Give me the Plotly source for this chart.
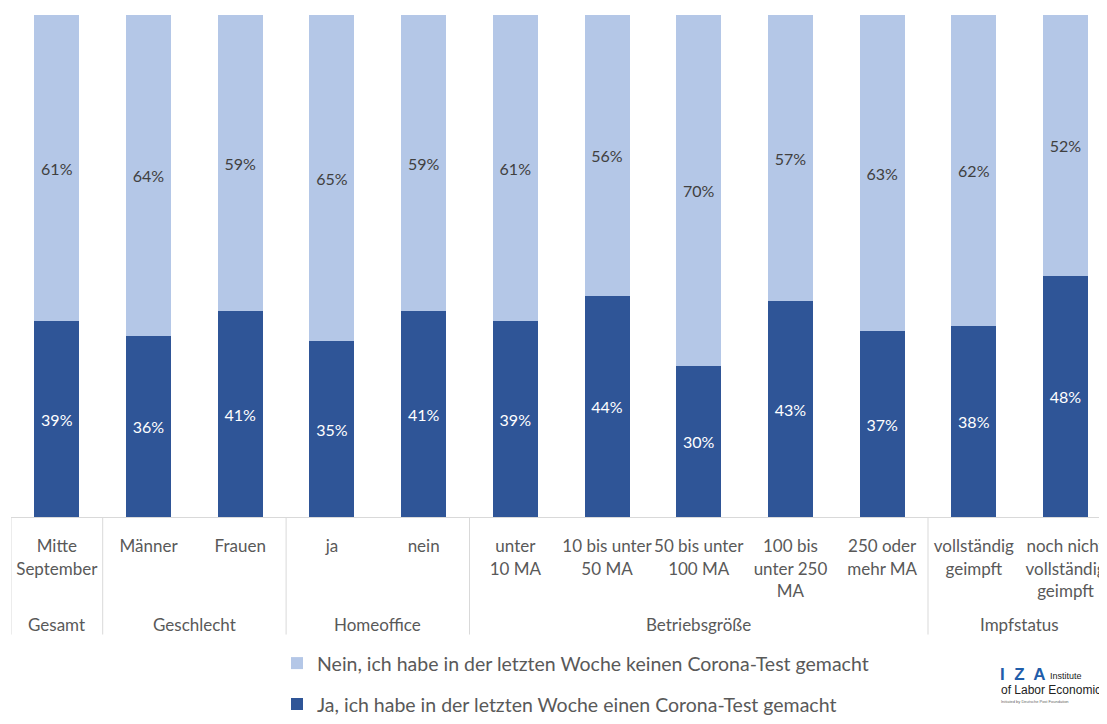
import plotly.graph_objects as go

categories = ["Mitte<br>September", "Männer", "Frauen", "ja", "nein", "unter<br>10 MA",
              "10 bis unter<br>50 MA", "50 bis unter<br>100 MA", "100 bis<br>unter 250<br>MA",
              "250 oder<br>mehr MA", "vollständig<br>geimpft", "noch nicht<br>vollständig<br>geimpft"]
ja_values = [39, 36, 41, 35, 41, 39, 44, 30, 43, 37, 38, 48]
nein_values = [61, 64, 59, 65, 59, 61, 56, 70, 57, 63, 62, 52]
groups = ["Gesamt", "Geschlecht", "Homeoffice", "Betriebsgröße", "Impfstatus"]
group_spans = [(0, 0), (1, 2), (3, 4), (5, 9), (10, 11)]
series_names = ["Ja, ich habe in der letzten Woche einen Corona-Test gemacht",
                "Nein, ich habe in der letzten Woche keinen Corona-Test gemacht"]

DARK = "#2F5597"
LIGHT = "#B4C7E7"
TXT = "#595959"
FONT = "Lato, Carlito, Calibri, sans-serif"

# page has an 8px body margin; plot area spans page x 11..1107, y 15..519
W = 1096.0
H = 504.0
def px(xp):
    return (xp - 11) / W
def py(yp):
    return (519 - yp) / H

fig = go.Figure()
fig.add_trace(go.Bar(x=categories, y=ja_values, name=series_names[0], marker_color=DARK,
                     marker_line_width=0, texttemplate="%{y}%", textposition="inside",
                     insidetextanchor="middle", textangle=0,
                     textfont=dict(color="white", size=16, family=FONT), legend="legend2"))
fig.add_trace(go.Bar(x=categories, y=nein_values, name=series_names[1], marker_color=LIGHT,
                     marker_line_width=0, texttemplate="%{y}%", textposition="inside",
                     insidetextanchor="middle", textangle=0,
                     textfont=dict(color="#404040", size=16, family=FONT), legend="legend"))

# group separators below the axis
for b in [-0.5, 0.5, 2.5, 4.5, 9.5, 11.5]:
    fig.add_shape(type="line", x0=b, x1=b, xref="x", yref="paper", y0=0, y1=py(637),
                  line=dict(color="#D9D9D9", width=1))

for g, (a, b) in zip(groups, group_spans):
    fig.add_annotation(x=(a + b) / 2, xref="x", y=py(627), yref="paper", text=g,
                       showarrow=False, yanchor="middle",
                       font=dict(size=17, color=TXT, family=FONT))

# IZA logo text
fig.add_annotation(x=px(998), y=py(677), xref="paper", yref="paper", xanchor="left",
                   yanchor="middle", showarrow=False, text="<b>I  Z  A</b>",
                   font=dict(size=17, color="#1F5DAA", family="Arial, sans-serif"))
fig.add_annotation(x=px(1048), y=py(679), xref="paper", yref="paper", xanchor="left",
                   yanchor="middle", showarrow=False, text="Institute",
                   font=dict(size=9, color="#222222", family="Arial, sans-serif"))
fig.add_annotation(x=px(999), y=py(693), xref="paper", yref="paper", xanchor="left",
                   yanchor="middle", showarrow=False, text="of Labor Economics",
                   font=dict(size=12, color="#222222", family="Arial, sans-serif"))
fig.add_annotation(x=px(999), y=py(704), xref="paper", yref="paper", xanchor="left",
                   yanchor="middle", showarrow=False, text="Initiated by Deutsche Post Foundation",
                   font=dict(size=4, color="#666666", family="Arial, sans-serif"))

fig.update_layout(
    width=1099, height=716,
    margin=dict(l=3, r=0, t=7, b=205),
    barmode="stack", bargap=0.51,
    plot_bgcolor="white", paper_bgcolor="white",
    font=dict(family=FONT, color=TXT, size=17),
    xaxis=dict(type="category", range=[-0.5, -0.5 + W / 91.7], showgrid=False,
               showline=True, linecolor="#D9D9D9", linewidth=1, ticks="",
               tickangle=0, automargin=False,
               tickfont=dict(size=17, color=TXT, family=FONT), ticklabelstandoff=14,
               fixedrange=True),
    yaxis=dict(range=[0, 100], visible=False, fixedrange=True),
    legend=dict(x=px(277), y=py(666), xanchor="left", yanchor="middle",
                font=dict(size=19.5, color=TXT, family=FONT), bgcolor="rgba(0,0,0,0)"),
    legend2=dict(x=px(277), y=py(707), xanchor="left", yanchor="middle",
                 font=dict(size=19.5, color=TXT, family=FONT), bgcolor="rgba(0,0,0,0)"),
    showlegend=True,
)

fig.write_html("out.html")
